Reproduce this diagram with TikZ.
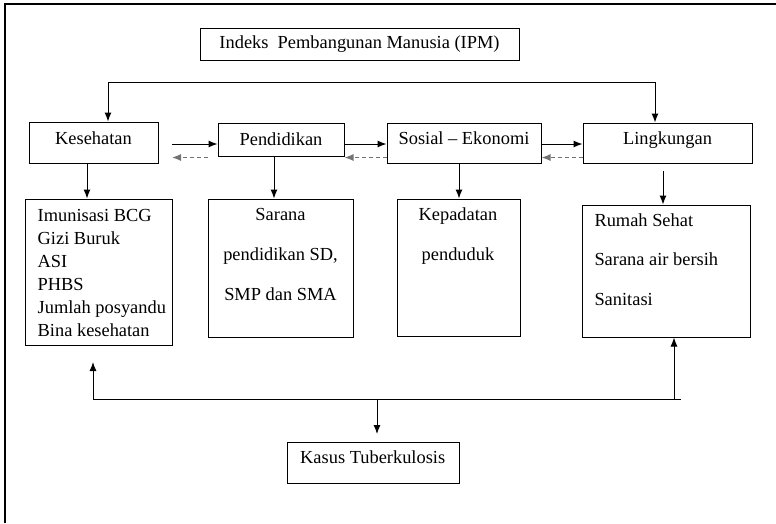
\documentclass[tikz,border=0pt]{standalone}
\usepackage{fontspec}
\setmainfont{Liberation Serif}
\usetikzlibrary{arrows.meta}

\tikzset{
  box/.style={draw, line width=1pt, inner sep=0pt, font=\fontsize{18.4}{22.5}\selectfont},
  head/.style={box, text height=12.5pt, text depth=9pt},
  listtxt/.style={inner sep=0pt, font=\fontsize{18.4}{23}\selectfont},
  arr/.style={line width=1pt, -{Latex[length=9pt,width=7pt]}},
  back/.style={arr, black!55, line width=1.2pt, dash pattern=on 4pt off 3pt},
}

\begin{document}
\begin{tikzpicture}[x=1pt, y=-1pt]
    \useasboundingbox (0,0) rectangle (776,523);
    % frame
    \draw[line width=2.5pt] (5,523) -- (5,4) -- (776,4);

    \node[box, minimum width=319pt, minimum height=32pt] (ipm) at (359.5,44) {Indeks\ \ Pembangunan Manusia (IPM)};

    % the four aspects
    \node[head, minimum width=129pt, minimum height=41pt] (kes) at (93.5,142.5) {Kesehatan};
    \node[box, minimum width=126pt, minimum height=33pt] (pend) at (281,139.5) {Pendidikan};
    \node[head, minimum width=154pt, minimum height=40pt] (sos) at (464,143) {Sosial -- Ekonomi};
    \node[head, minimum width=169pt, minimum height=40pt] (ling) at (667.5,143) {Lingkungan};

    % indicator boxes
    \node[box, minimum width=147pt, minimum height=146pt] (kesList) at (98.5,272) {};
    \node[box, minimum width=145pt, minimum height=138pt] (pendList) at (280.5,268) {};
    \node[box, minimum width=123pt, minimum height=137pt] (sosList) at (458.5,267.5) {};
    \node[box, minimum width=168pt, minimum height=132pt] (lingList) at (666,271) {};

    \node[listtxt, anchor=north west, align=left] (kesTxt) at (37.5,208.8) {Imunisasi BCG\\Gizi Buruk\\ASI\\PHBS\\Jumlah posyandu\\Bina kesehatan};
    \node[listtxt, anchor=north, align=center] (pendTxt) at (280.5,208.5) {Sarana\\[17pt]pendidikan SD,\\[17pt]SMP dan SMA};
    \node[listtxt, anchor=north, align=center] (sosTxt) at (458,208) {Kepadatan\\[17pt]penduduk};
    \node[listtxt, anchor=north west, align=left] (lingTxt) at (594.3,213.4) {Rumah Sehat\\[16.5pt]Sarana air bersih\\[16.5pt]Sanitasi};

    \node[box, minimum width=172pt, minimum height=41pt] (kasus) at (373,462.5) {};
    \node[listtxt, anchor=base west] (kasusTxt) at (300,463) {Kasus Tuberkulosis};

    % top bus
    \coordinate (busL) at (108,82);
    \coordinate (busR) at (655,82);
    \draw[line width=1pt] (busL) -- (busR);
    \draw[arr] (busL) -- (busL |- kes.north);
    \draw[arr] (busR) -- (busR |- ling.north);

    % links between the aspects
    \coordinate (fwd) at (0,144);
    \coordinate (bwd) at (0,157.5);
    \coordinate (kesR) at (172,0);
    \coordinate (pendL) at (208,0);
    \draw[arr] (kesR |- fwd) -- (pend.west |- fwd);
    \draw[back] (pendL |- bwd) -- (kesR |- bwd);
    \draw[arr] (pend.east |- fwd) -- (sos.west |- fwd);
    \draw[back] (sos.west |- bwd) -- (pend.east |- bwd);
    \draw[arr] (sos.east |- fwd) -- (ling.west |- fwd);
    \draw[back] (ling.west |- bwd) -- (sos.east |- bwd);

    % down to the indicators
    \draw[arr] ([xshift=-6.5pt]kes.south) -- ([xshift=-6.5pt]kes.south |- kesList.north);
    \draw[arr] ([xshift=-7pt]pend.south) -- ([xshift=-7pt]pend.south |- pendList.north);
    \draw[arr] ([xshift=-5pt]sos.south) -- ([xshift=-5pt]sos.south |- sosList.north);
    \draw[arr] ([shift={(-4.5pt,-7pt)}]ling.south) -- ([xshift=-4.5pt]ling.south |- lingList.north);

    % bottom bus
    \coordinate (botL) at (93,399);
    \coordinate (botR) at (681,399);
    \coordinate (botM) at (377,399);
    \coordinate (lingUp) at (674,399);
    \coordinate (kesUp) at (93,362);
    \coordinate (kasusIn) at (377,434);
    \draw[line width=1pt] (botL) -- (botR);
    \draw[arr] (botL) -- (kesUp);
    \draw[arr] (lingUp) -- (lingUp |- lingList.south);
    \draw[arr] (botM) -- (kasusIn);
\end{tikzpicture}
\end{document}
